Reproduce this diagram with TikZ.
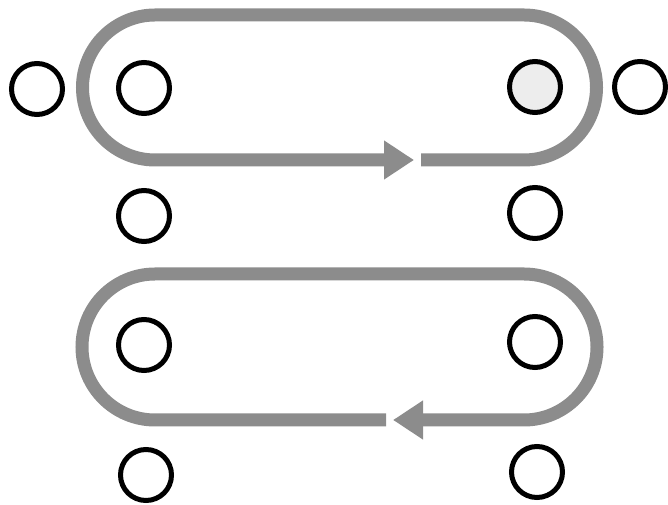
\documentclass[tikz,border=0pt]{standalone}
\usetikzlibrary{arrows.meta}
\begin{document}
\begin{tikzpicture}[x=1pt,y=1pt,
  ring/.style={circle,draw=black,fill=white,line width=5pt,minimum size=51pt,inner sep=0pt},
  loop/.style={draw=black!45,line width=13pt,-{Triangle[length=30pt,width=37pt]}}]
  \useasboundingbox (0,0) rectangle (668,505);
  % upper loop, running round the first pair of rows
  \draw[loop] (421,345) -- (524,345) arc[start angle=-90,end angle=90,radius=72.5]
     -- (155,490) arc[start angle=90,end angle=270,radius=72.5] -- (414,345);
  % lower loop, running the other way
  \draw[loop] (386,85) -- (155,85) arc[start angle=270,end angle=90,radius=73]
     -- (524,231) arc[start angle=90,end angle=-90,radius=73] -- (393,85);
  % the rings
  \node[ring] (outL) at (37,416) {};
  \node[ring] (upL) at (144,417) {};
  \node[ring,fill=black!7] (upR) at (535,418) {};
  \node[ring] (outR) at (640,418) {};
  \node[ring] (midL1) at (144,289) {};
  \node[ring] (midR1) at (535,292) {};
  \node[ring] (midL2) at (144,160) {};
  \node[ring] (midR2) at (535,163) {};
  \node[ring] (lowL) at (146,30) {};
  \node[ring] (lowR) at (537,33) {};
\end{tikzpicture}
\end{document}
